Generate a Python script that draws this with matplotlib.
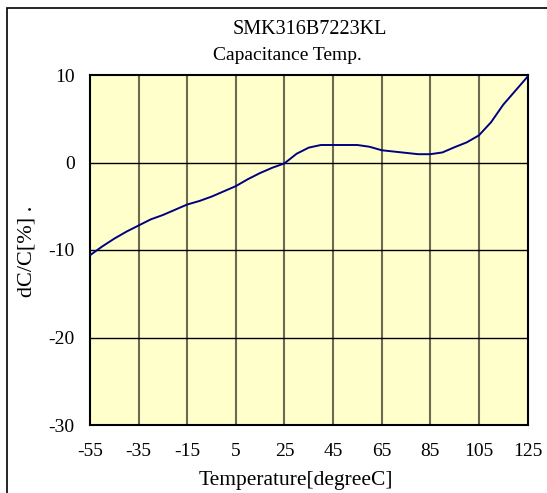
import matplotlib.pyplot as plt
from matplotlib.patches import Rectangle

plt.rcParams['font.family'] = ['Liberation Serif', 'DejaVu Serif']
plt.rcParams['axes.unicode_minus'] = False

# Temperature vs capacitance change
temp = [-55, -50, -45, -40, -35, -30, -25, -20, -15, -10, -5, 0, 5,
        10, 15, 20, 25, 30, 35, 40, 45, 50, 55, 60, 65, 70, 75, 80, 85,
        90, 95, 100, 105, 110, 115, 120, 125]
dcc = [-10.6, -9.6, -8.7, -7.9, -7.2, -6.5, -6.0, -5.4, -4.8, -4.4, -3.9,
       -3.3, -2.7, -1.9, -1.2, -0.6, -0.1, 1.0, 1.7, 2.0, 2.0, 2.0, 2.0,
       1.8, 1.4, 1.25, 1.1, 0.95, 0.95, 1.15, 1.75, 2.3, 3.1, 4.6, 6.6,
       8.2, 9.8]
xticks = [-55, -35, -15, 5, 25, 45, 65, 85, 105, 125]
yticks = [-30, -20, -10, 0, 10]

W, H = 547, 493
fig = plt.figure(figsize=(W / 100, H / 100), dpi=100)
ax = fig.add_axes([90 / W, 1 - 425 / H, 437.5 / W, 350 / H])
ax.set_facecolor('#FFFFCC')

ax.plot(temp, dcc, color='#000080', lw=1.4, zorder=3)

ax.set_xlim(-55, 125)
ax.set_ylim(-30, 10)
ax.set_xticks(xticks)
ax.set_yticks(yticks)
ax.tick_params(length=0, labelsize=14)
ax.tick_params(axis='x', pad=13)
ax.tick_params(axis='y', pad=11)

for x in xticks[1:-1]:
    ax.axvline(x, color='#6b6952', lw=1.5, zorder=1)
for y in yticks[1:-1]:
    ax.axhline(y, color='black', lw=1.0, zorder=1)
for s in ax.spines.values():
    s.set_linewidth(1.5)

fig.text(27 / W, 1 - 251 / H, 'dC/C[%] .', fontsize=16, rotation=90,
         ha='center', va='center')
fig.text(309.5 / W, 1 - 30 / H, 'SMK316B7223KL', fontsize=14.5,
         ha='center', va='center')
fig.text(287 / W, 1 - 56 / H, 'Capacitance Temp.', fontsize=14,
         ha='center', va='center')
fig.text(296 / W, 1 - 480 / H, 'Temperature[degreeC]', fontsize=15.5,
         ha='center', va='center')

fig.patches.append(Rectangle((7 / W, -0.1), 1.2, 1.1 - 8 / H,
                             transform=fig.transFigure, fill=False,
                             edgecolor='black', lw=1.2))

fig.savefig('out.png', dpi=100)
